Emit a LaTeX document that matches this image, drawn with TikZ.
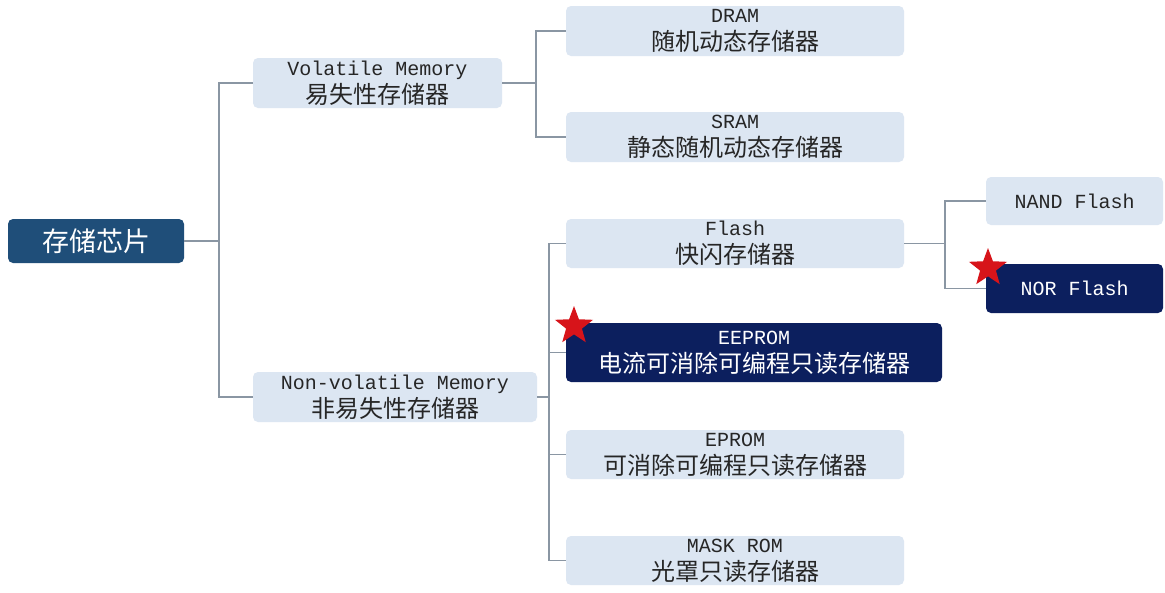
\documentclass[tikz,border=0pt]{standalone}
\usepackage{fontspec}
\setmonofont{Liberation Mono}
\newfontfamily\cjk{Noto Sans CJK SC}
\usepackage{tikz}
\usetikzlibrary{shapes.geometric}
\definecolor{rootblue}{HTML}{1F4E79}
\definecolor{navy}{HTML}{0C1F5E}
\definecolor{pale}{HTML}{DCE6F2}
\definecolor{wiregray}{HTML}{8A96A3}
\definecolor{ink}{HTML}{262626}
\definecolor{starred}{HTML}{D7141A}
\newcommand{\lat}{\fontsize{20}{28}\selectfont\ttfamily}
\newcommand{\han}{\fontsize{24}{28}\selectfont\cjk}
\tikzset{
  item/.style={rounded corners=5pt, inner sep=0pt, align=center, text=ink, fill=pale, minimum height=50pt, minimum width=338pt, font=\fontsize{24}{28}\selectfont},
  hot/.style={item, fill=navy, text=white},
  top/.style={rounded corners=5pt, inner sep=0pt, fill=rootblue, text=white, minimum width=176pt, minimum height=44pt, font=\fontsize{27}{30}\selectfont\cjk},
  link/.style={draw=wiregray, line width=1.5pt},
  pick/.style={star, star points=5, star point ratio=2.4, fill=starred, minimum size=40pt, inner sep=0pt}
}

\begin{document}
\begin{tikzpicture}[x=1pt, y=-1pt]
\useasboundingbox[fill=white] (0,0) rectangle (1165,592);
% root and the two families
\node[top] (chip) at (96,241) {存储芯片};
\node[item, minimum width=249pt] (vol) at (377.5,83) {\lat Volatile Memory\\\han 易失性存储器};
\node[item, minimum width=284pt] (nonvol) at (395,397) {\lat Non-volatile Memory\\\han 非易失性存储器};
% volatile
\node[item] (dram) at (735,31) {\lat DRAM\\\han 随机动态存储器};
\node[item] (sram) at (735,137) {\lat SRAM\\\han 静态随机动态存储器};
% non-volatile
\node[item, minimum height=49pt] (flash) at (735,243.5) {\lat Flash\\\han 快闪存储器};
\node[hot, minimum width=376pt, minimum height=59pt] (eeprom) at (754,352.5) {\lat EEPROM\\\han 电流可消除可编程只读存储器};
\node[item, minimum height=49pt] (eprom) at (735,454.5) {\lat EPROM\\\han 可消除可编程只读存储器};
\node[item, minimum height=49pt] (mask) at (735,560.5) {\lat MASK ROM\\\han 光罩只读存储器};
% flash types
\node[item, minimum width=177pt, minimum height=48pt] (nand) at (1074.5,201) {\lat NAND Flash};
\node[hot, minimum width=177pt, minimum height=49pt] (nor) at (1074.5,288.5) {\lat NOR Flash};

% connectors
\draw[link] (chip.east) -- ++(35,0) coordinate (chipbus);
\draw[link] (chipbus) |- (vol.west);
\draw[link] (chipbus) |- (nonvol.west);
\draw[link] (vol.east) -- ++(34,0) coordinate (volbus);
\draw[link] (volbus) |- (dram.west);
\draw[link] (volbus) |- (sram.west);
\draw[link] (nonvol.east) -- ++(12,0) coordinate (nvbus);
\draw[link] (nvbus) |- (flash.west);
\draw[link] (nvbus) |- (eeprom.west);
\draw[link] (nvbus) |- (eprom.west);
\draw[link] (nvbus) |- (mask.west);
\draw[link] (flash.east) -- ++(41,0) coordinate (flashbus);
\draw[link] (flashbus) |- (nand.west);
\draw[link] (flashbus) |- (nor.west);

% stars
\node[pick] (eestar) at (574,326) {};
\node[pick] (norstar) at (988,268) {};
\end{tikzpicture}
\end{document}
